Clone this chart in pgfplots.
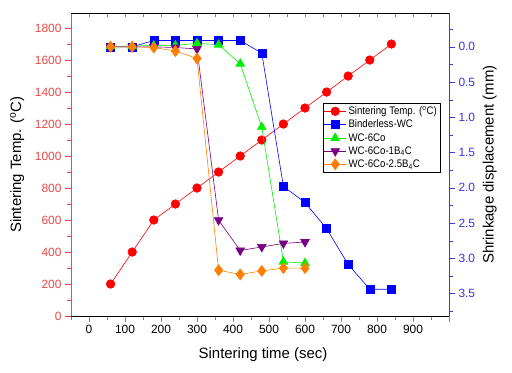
\documentclass[border=0pt]{standalone}
\usepackage{pgfplots}
\pgfplotsset{compat=1.18}
\usepackage{fontspec}
\setmainfont{Liberation Sans}
\newfontfamily\legfont[FakeStretch=0.88]{Liberation Sans}
\definecolor{axred}{RGB}{232,72,72}
\definecolor{axblue}{RGB}{56,56,215}
\definecolor{mgreen}{RGB}{0,240,0}
\definecolor{mpurple}{RGB}{120,0,130}
\definecolor{morange}{RGB}{255,128,0}
\begin{document}
\begin{tikzpicture}
\pgfplotsset{every axis/.append style={
  width=378bp, height=303bp, scale only axis,
  xmin=-50, xmax=1000,
  /pgf/number format/assume math mode=true,
  /pgf/number format/1000 sep={},
  tick label style={font=\fontsize{12}{14}\selectfont},
  label style={font=\fontsize{15}{18}\selectfont},
  major tick length=6bp, minor tick length=3.5bp,
}}
% axis 1: left temperature axis, bottom x axis
\begin{axis}[
  axis x line*=bottom, axis y line*=left,
  ymin=0, ymax=1894,
  xtick={0,100,...,1000},
  xticklabels={0,100,200,300,400,500,600,700,800,900,{}},
  minor xtick={-50,50,...,950},
  ytick={0,200,...,1800},
  minor ytick={100,300,...,1700},
  tick align=outside,
  y axis line style={axred},
  y tick style={axred},
  yticklabel style={text=axred},
  xlabel={Sintering time (sec)},
  ylabel={Sintering Temp. (\textsuperscript{o}C)},
  xlabel style={at={(axis description cs:0.508,-0.128)}, anchor=center},
  ylabel style={at={(axis description cs:-0.142,0.5)}, anchor=center},
]
\addplot[axred, line width=0.6bp, mark=*, mark size=4.3bp, mark options={solid, fill=red, draw=red}, color=red]
coordinates {(60,200)(120,400)(180,600)(240,700)(300,800)(360,900)(420,1000)(480,1100)(540,1200)(600,1300)(660,1400)(720,1500)(780,1600)(840,1700)};
\end{axis}
% axis 3: top x axis, inward ticks
\begin{axis}[
  axis x line*=top, axis y line=none,
  ymin=0, ymax=1,
  xtick={0,100,...,1000},
  xticklabels={},
  minor xtick={-50,50,...,950},
  tick align=inside,
  major tick length=4bp, minor tick length=4bp,
]
\end{axis}
% axis 2: right shrinkage axis
\begin{axis}[
  axis x line=none, axis y line*=right,
  y dir=reverse,
  ymin=-0.48, ymax=3.82,
  ytick={0,0.5,...,3.5},
  minor ytick={-0.25,0.25,...,3.75},
  tick align=outside,
  y axis line style={axblue},
  y tick style={axblue},
  yticklabel style={text=axblue, /pgf/number format/.cd, fixed, fixed zerofill, precision=1},
  ylabel={Shrinkage displacement (mm)},
  ylabel style={at={(axis description cs:1.108,0.5)}, anchor=center},
  legend style={at={(0.666,0.702)}, anchor=north west, draw=black,
    font=\legfont\fontsize{11}{13.5}\selectfont, inner sep=1bp, row sep=0bp,
    cells={anchor=west}},
  legend image code/.code={\draw[mark repeat=2,mark phase=2] plot coordinates {(0bp,0bp)(11bp,0bp)(22bp,0bp)};},
]
\addlegendimage{red, line width=0.6bp, mark=*, mark size=4.3bp}
\addlegendentry{Sintering Temp. (\textsuperscript{o}C)}
\addplot[color=blue, line width=0.6bp, mark=square*, mark size=4bp, mark options={fill=blue, draw=blue}]
coordinates {(60,0.0)(120,0.0)(180,-0.09)(240,-0.09)(300,-0.09)(360,-0.09)(420,-0.09)(480,0.09)(540,1.98)(600,2.21)(660,2.58)(720,3.09)(780,3.44)(840,3.44)};
\addlegendentry{Binderless-WC}
\addplot[color=mgreen, line width=0.6bp, mark=triangle*, mark size=5bp, mark options={fill=mgreen, draw=mgreen}]
coordinates {(60,-0.01)(120,-0.01)(180,-0.02)(240,-0.02)(300,-0.05)(360,-0.03)(420,0.24)(480,1.14)(540,3.05)(600,3.07)};
\addlegendentry{WC-6Co}
\addplot[color=mpurple, line width=0.6bp, mark=triangle*, mark size=5bp, mark options={fill=mpurple, draw=mpurple, rotate=180}]
coordinates {(60,0.0)(120,0.0)(180,0.0)(240,0.01)(300,0.03)(360,2.46)(420,2.89)(480,2.84)(540,2.79)(600,2.77)};
\addlegendentry{WC-6Co-1B\textsubscript{4}C}
\addplot[color=morange, line width=0.6bp, mark=diamond*, mark size=5.5bp, mark options={fill=morange, draw=morange}]
coordinates {(60,0.0)(120,0.0)(180,0.01)(240,0.06)(300,0.165)(360,3.17)(420,3.23)(480,3.18)(540,3.14)(600,3.14)};
\addlegendentry{WC-6Co-2.5B\textsubscript{4}C}
\end{axis}
\pgfresetboundingbox
\path (-71bp,-57bp) rectangle (441bp,316bp);
\end{tikzpicture}
\end{document}
